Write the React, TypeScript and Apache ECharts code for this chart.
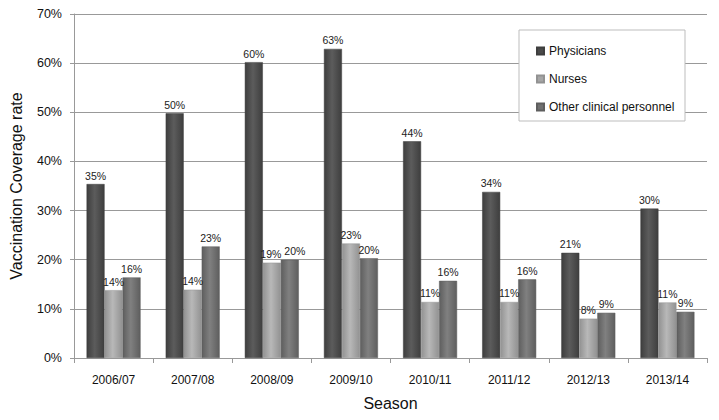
import React, { useEffect, useRef } from "react";
import * as echarts from "echarts";

const seasons = ["2006/07", "2007/08", "2008/09", "2009/10", "2010/11", "2011/12", "2012/13", "2013/14"];
const physicians = [35.4, 49.8, 60.2, 62.9, 44.1, 33.8, 21.4, 30.4];
const nurses = [13.8, 13.9, 19.4, 23.3, 11.4, 11.4, 8.0, 11.3];
const otherStaff = [16.4, 22.7, 20.0, 20.3, 15.7, 16.0, 9.2, 9.4];
const seriesNames = ["Physicians", "Nurses", "Other clinical personnel"];
const yTicks = [0, 10, 20, 30, 40, 50, 60, 70];

const FONT = '"Liberation Sans Narrow", "Arial Narrow", "Liberation Sans", Arial, sans-serif';

function grad(edge: string, mid: string) {
  return new echarts.graphic.LinearGradient(0, 0, 1, 0, [
    { offset: 0, color: edge },
    { offset: 0.45, color: mid },
    { offset: 1, color: edge },
  ]);
}

export default function App() {
  const ref = useRef<HTMLDivElement>(null);
  useEffect(() => {
    if (!ref.current) return;
    const chart = echarts.init(ref.current, undefined, { renderer: "svg" });
    const colors = [
      { edge: "#3e3e3e", mid: "#5c5c5c", legend: "#4a4a4a" },
      { edge: "#929292", mid: "#b8b8b8", legend: "#a6a6a6" },
      { edge: "#5e5e5e", mid: "#808080", legend: "#707070" },
    ];
    const datasets = [physicians, nurses, otherStaff];
    // labels of neighbouring bars with near-equal values (two-digit) would collide: nudge them apart
    const clash = (j: number) =>
      Math.abs(nurses[j] - otherStaff[j]) < 1.5 && Math.round(nurses[j]) >= 10 && Math.round(otherStaff[j]) >= 10;
    chart.setOption({
      animation: false,
      textStyle: { fontFamily: FONT },
      grid: { left: 70, right: 12, top: 14, bottom: 62 },
      legend: {
        orient: "vertical",
        left: 531,
        top: 40,
        itemWidth: 7,
        itemHeight: 7,
        itemGap: 16,
        icon: "rect",
        z: 10,
        textStyle: { fontSize: 12, color: "#111", fontFamily: FONT },
        data: seriesNames.map((n, i) => ({ name: n, itemStyle: { color: colors[i].legend } })),
      },
      graphic: [
        {
          type: "rect",
          z: 5,
          shape: { x: 519, y: 30, width: 166, height: 91 },
          style: { fill: "#fff", stroke: "#bdbdbd", lineWidth: 1 },
        },
      ],
      xAxis: {
        type: "category",
        data: seasons,
        name: "Season",
        nameLocation: "middle",
        nameGap: 37,
        nameTextStyle: { fontSize: 16, color: "#111", fontFamily: FONT },
        axisLine: { lineStyle: { color: "#999" } },
        axisTick: { show: true, length: 5, lineStyle: { color: "#999" } },
        axisLabel: { fontSize: 12, color: "#111", margin: 16, fontFamily: FONT },
      },
      yAxis: {
        type: "value",
        min: yTicks[0],
        max: yTicks[yTicks.length - 1],
        interval: 10,
        name: "Vaccination Coverage rate",
        nameLocation: "middle",
        nameGap: 50,
        nameTextStyle: { fontSize: 16, color: "#111", fontFamily: FONT },
        axisLine: { show: true, lineStyle: { color: "#999" } },
        axisTick: { show: true, length: 4, lineStyle: { color: "#999" } },
        splitLine: { lineStyle: { color: "#999" } },
        axisLabel: { fontSize: 12.5, color: "#111", margin: 12, formatter: "{value}%", fontFamily: FONT },
      },
      series: seriesNames.map((name, i) => ({
        name,
        type: "bar",
        barWidth: 18,
        barGap: "0%",
        data: datasets[i].map((v, j) =>
          i > 0 && clash(j) ? { value: v, label: { offset: [i === 1 ? -1 : 5, 0] } } : v
        ),
        itemStyle: { color: grad(colors[i].edge, colors[i].mid), borderColor: colors[i].edge, borderWidth: 0.5 },
        label: {
          show: true,
          position: "top",
          distance: 3,
          fontSize: 10.5,
          color: "#222",
          fontFamily: FONT,
          formatter: (p: any) => Math.round(p.value) + "%",
        },
      })),
    });
    return () => chart.dispose();
  }, []);
  return <div ref={ref} style={{ position: "absolute", left: 0, top: 0, width: 719, height: 420 }} />;
}
